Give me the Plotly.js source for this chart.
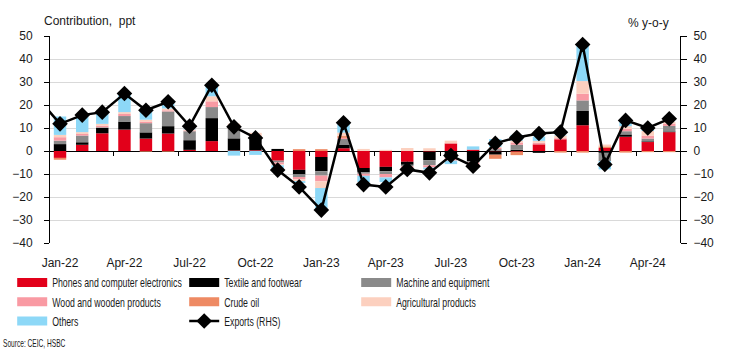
<!DOCTYPE html>
<html>
<head>
<meta charset="utf-8">
<script src="https://cdn.plot.ly/plotly-3.0.1.min.js"></script>
<style>html,body{margin:0;padding:0;background:#fff;}#chart{width:730px;height:359px;}</style>
</head>
<body>
<div id="chart"></div>
<script>
// ---- data ----
var months = ['2022-01','2022-02','2022-03','2022-04','2022-05','2022-06','2022-07','2022-08','2022-09','2022-10','2022-11','2022-12',
              '2023-01','2023-02','2023-03','2023-04','2023-05','2023-06','2023-07','2023-08','2023-09','2023-10','2023-11','2023-12',
              '2024-01','2024-02','2024-03','2024-04','2024-05'];
var phones  = [-3, 2.7, 7.7, 9.3, 5.4, 7.6, 0.5, 4.3, 0.2, 0.3, -4.2, -8.2, -2.6, 1.2, -7.4, -6.9, -4.7, -0.3, 3.3, 0.6, -0.2, -0.3, 2.9, 5.1, 11.2, 1.3, 6.2, 3.9, 8.2];
var textile = [3, 1.1, 2.3, 3.5, 2.7, 3.2, 4.2, 10, 5.3, 4.6, 0.9, -2.0, -6.2, 1.4, -1.9, -1.9, -1.3, -3.7, -1.5, -4.5, -1.4, 0.5, -0.8, 0, 6.2, -0.8, 1.0, 0.3, 0.3];
var machine = [1.5, 2.9, 0.3, 2.4, 4.0, 6.4, 3.9, 4.8, 4.3, 0.8, -0.8, -1.1, -1.9, 2.6, -0.6, -1.2, -0.6, -2.2, -1.5, -0.5, 0.8, 2.2, 0, 0, 4.6, -3.6, 1.4, 1.2, 2.4];
var wood    = [1.5, 0.7, 0.7, 0.9, 0.7, 0.5, 0.3, 2.5, 0.5, 0.5, -0.8, -1.0, -2.5, 0.5, -0.9, -1.5, -0.7, -1.0, -1.2, -1.5, 0.5, 1.0, 0.7, 0.5, 2.9, 0, 1.0, 1.3, 1.0];
var crude   = [-0.8, 0, 0, 0, -0.3, -0.3, 0, 0, 0, 0.5, 0, 0.8, 0.8, 0.8, 0, 0, 0, 0, 0, 0, -1.8, -1.5, 0, -0.7, -0.7, 0.7, -0.7, -0.5, -0.5];
var agri    = [1, 0.8, 0.8, 0.8, 0.8, 0.8, 0.5, 2.2, 1.6, 1.2, -0.4, -0.8, -2.9, 1.5, 0.9, 0.5, 1.3, 1.2, 1.2, 0, 0.5, 0.8, 0.8, 1.0, 5.5, 0.8, 1.2, 2.0, 0.7];
var others  = [8, 6.9, 5.0, 8.1, 4.4, 2.9, 0.3, 4.5, -2.0, -1.7, -2.0, -0.8, -9.4, 4.0, -2.7, -2.0, 0, -0.8, -1.5, 1.4, 3.4, 2.5, 1.9, 0.2, 15.9, -3.6, 2.2, 1.4, 0];
var exportMonths = ['2021-12'].concat(months);
var exportsYoY = [23, 11.8, 15.6, 16.9, 25, 17.7, 21.4, 10.8, 28.6, 10.5, 5.7, -8.3, -15.6, -25.7, 12.3, -14.6, -15.6, -8, -9.5, -2, -6.6, 3.3, 5.9, 7.6, 8.2, 46.3, -5.9, 13.3, 10, 14];

var seriesNames = ['Phones and computer electronics','Textile and footwear','Machine and equipment','Wood and wooden products','Crude oil','Agricultural products','Others'];
var seriesValues = [phones, textile, machine, wood, crude, agri, others];
var seriesColors = ['#e2001a','#000000','#8a8a8a','#f99aa3','#ee8a63','#fcd0bf','#8dd8f7'];

var xRange = ['2021-12-18','2024-05-16'];
var yRange = [-40, 50];

var traces = [];
seriesValues.forEach(function(v, i){
  traces.push({type:'bar', x: months, y: v, name: seriesNames[i], marker:{color: seriesColors[i], line:{width:0}},
               showlegend:false, hoverinfo:'skip'});
});
// legend swatches
seriesNames.forEach(function(n, i){
  traces.push({type:'scatter', mode:'lines', x:[null], y:[null], name:n, xaxis:'x2',
               line:{color: seriesColors[i], width:9}, showlegend:true, hoverinfo:'skip'});
});
traces.push({type:'scatter', mode:'lines+markers', x: exportMonths, y: exportsYoY, yaxis:'y2', name:'Exports (RHS)',
             line:{color:'#000', width:2.5}, marker:{symbol:'diamond', size:12, color:'#000'}, hoverinfo:'skip'});

var baseFont = {family:'Liberation Sans, Arial, sans-serif', size:12, color:'#1a1a1a'};
var layout = {
  width:730, height:359,
  margin:{l:40, r:50, t:36, b:116},
  paper_bgcolor:'#fff', plot_bgcolor:'#fff',
  barmode:'relative', bargap:0.38,
  font: baseFont,
  xaxis:{type:'date', range:xRange, tickformat:'%b-%y', dtick:'M3', tick0:'2022-01-01', ticks:'', showgrid:false,
         showline:false, zeroline:false, tickfont:baseFont, ticklabelstandoff:11},
  xaxis2:{type:'date', overlaying:'x', range:xRange, anchor:'free', position:(0 - yRange[0])/(yRange[1]-yRange[0]),
          tickmode:'linear', tick0:'2022-03-16', dtick:'M3', ticks:'outside', ticklen:4, tickcolor:'#000', tickwidth:1,
          showticklabels:false, showgrid:false, showline:false, zeroline:false},
  yaxis:{range:yRange, dtick:10, tick0:0, showgrid:true, gridcolor:'#d9d9d9', gridwidth:1, zeroline:true, zerolinecolor:'#000',
         zerolinewidth:1, showline:true, linecolor:'#000', linewidth:1, ticks:'outside', ticklen:5, tickcolor:'#000',
         tickfont:baseFont, ticklabelstandoff:9},
  yaxis2:{range:yRange, dtick:10, tick0:0, overlaying:'y', side:'right', anchor:'x', showgrid:false, zeroline:false,
          showline:true, linecolor:'#000', linewidth:1, ticks:'outside', ticklen:6, tickcolor:'#000', tickfont:baseFont,
          ticklabelstandoff:4},
  showlegend:true,
  legend:{orientation:'h', x:-0.06, xanchor:'left', y:-0.12, yanchor:'top', entrywidth:127, itemwidth:30,
          font:{family:'Liberation Sans, Arial, sans-serif', size:12.5, color:'#1a1a1a'},
          bgcolor:'rgba(0,0,0,0)', traceorder:'normal'},
  annotations:[
    {text:'Contribution,  ppt', xref:'paper', yref:'paper', x:-0.012, y:1.072, xanchor:'left', yanchor:'middle', showarrow:false, font:baseFont},
    {text:'% y-o-y', xref:'paper', yref:'paper', x:0.915, y:1.063, xanchor:'left', yanchor:'middle', showarrow:false, font:baseFont},
    {text:'Source: CEIC, HSBC', xref:'paper', yref:'paper', x:-0.077, y:-0.483, xanchor:'left', yanchor:'middle', showarrow:false,
     font:{family:'Liberation Sans, Arial, sans-serif', size:11, color:'#1a1a1a'}}
  ]
};

// condensed look for legend / source text (reference uses a narrow face)
function condense(el, s){
  try {
    var b = el.getBBox();
    var x0 = b.x;
    el.setAttribute('transform', 'translate(' + x0 + ',0) scale(' + s + ',1) translate(' + (-x0) + ',0)');
  } catch(e) {}
}
Plotly.newPlot('chart', traces, layout, {displayModeBar:false, staticPlot:true}).then(function(gd){
  gd.querySelectorAll('.legendtext').forEach(function(t){ condense(t, 0.7); });
  gd.querySelectorAll('.annotation-text').forEach(function(t){
    if (t.textContent.indexOf('Source') === 0) condense(t, 0.6);
  });
});
</script>
</body>
</html>
